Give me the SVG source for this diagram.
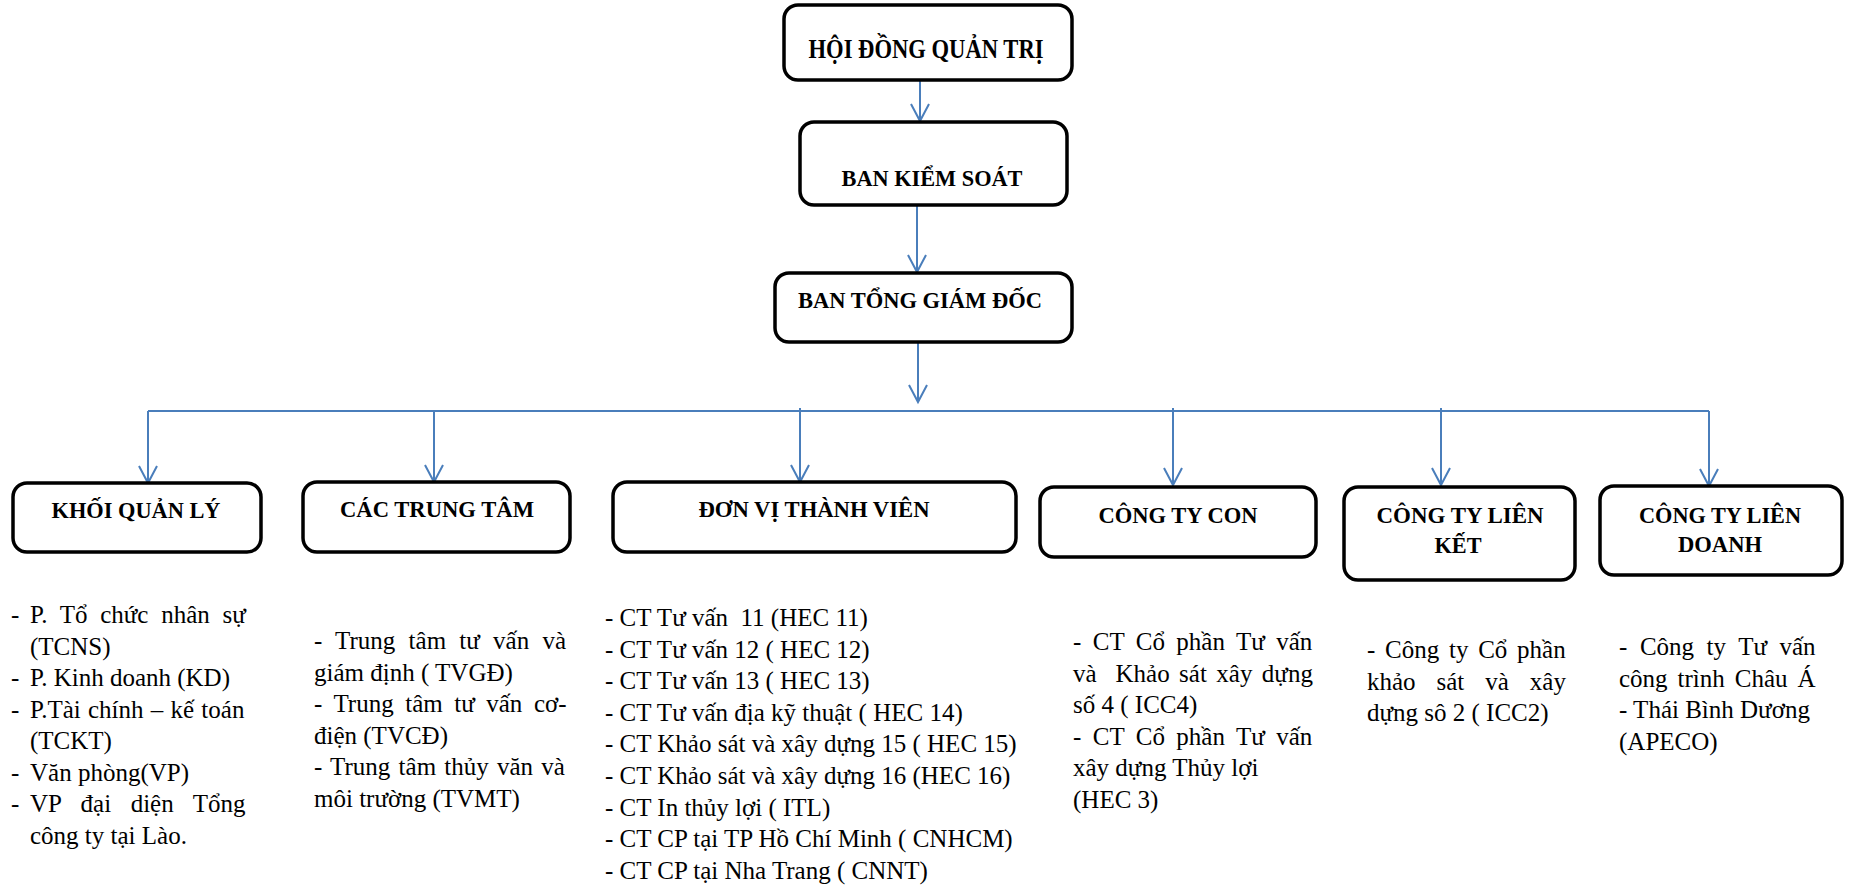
<svg xmlns="http://www.w3.org/2000/svg" width="1850" height="886" viewBox="0 0 1850 886" font-family="'Liberation Serif', Tinos, 'Times New Roman', 'DejaVu Serif', serif">
<style>
.box{fill:#fff;stroke:#000;stroke-width:3.5}
.h{font-family:'Liberation Serif', Tinos, 'Times New Roman', 'DejaVu Serif', serif;font-weight:bold;font-size:24px;text-anchor:middle;fill:#000}
.t{font-family:'Liberation Serif', Tinos, 'Times New Roman', 'DejaVu Serif', serif;font-size:25px;fill:#000;white-space:pre}
.c{stroke:#4a7ebb;stroke-width:2;fill:none}
</style>
<defs>
<marker id="ah" markerUnits="userSpaceOnUse" markerWidth="24" markerHeight="24" viewBox="-20 -12 24 24" refX="0" refY="0" orient="auto" overflow="visible">
<path d="M-17,-9 L0,0 L-17,9" fill="none" stroke="#4a7ebb" stroke-width="2"/>
</marker>
</defs>
<rect width="1850" height="886" fill="#fff"/>

<g id="connectors">
<path class="c" d="M920,80 V121" marker-end="url(#ah)"/>
<path class="c" d="M917,205 V272" marker-end="url(#ah)"/>
<path class="c" d="M918,342 V402" marker-end="url(#ah)"/>
<path class="c" d="M148,411 H1709"/>
<path class="c" d="M148,411 V483" marker-end="url(#ah)"/>
<path class="c" d="M434,411 V482" marker-end="url(#ah)"/>
<path class="c" d="M800,408 V482" marker-end="url(#ah)"/>
<path class="c" d="M1173,408 V485" marker-end="url(#ah)"/>
<path class="c" d="M1441,408 V485" marker-end="url(#ah)"/>
<path class="c" d="M1709,411 V486" marker-end="url(#ah)"/>
</g>

<g id="hdqt">
<rect class="box" x="784" y="5" width="288" height="75" rx="14"/>
<text class="h" x="926" y="58" style="font-size:28px" textLength="235" lengthAdjust="spacingAndGlyphs">HỘI ĐỒNG QUẢN TRỊ</text>
</g>
<g id="bks">
<rect class="box" x="800" y="122" width="267" height="83" rx="14"/>
<text class="h" x="932" y="186" textLength="181" lengthAdjust="spacingAndGlyphs">BAN KIỂM SOÁT</text>
</g>
<g id="btgd">
<rect class="box" x="775" y="273" width="297" height="69" rx="14"/>
<text class="h" x="920" y="308" textLength="244" lengthAdjust="spacingAndGlyphs">BAN TỔNG GIÁM ĐỐC</text>
</g>

<g id="khoi-quan-ly">
<rect class="box" x="13" y="483" width="248" height="69" rx="14"/>
<text class="h" x="136" y="518" textLength="169" lengthAdjust="spacingAndGlyphs">KHỐI QUẢN LÝ</text>
<text class="t" x="11" y="623">-</text>
<text class="t" x="30" y="623" word-spacing="6.5">P. Tổ chức nhân sự</text>
<text class="t" x="30" y="654.5">(TCNS)</text>
<text class="t" x="11" y="686">-</text>
<text class="t" x="30" y="686">P. Kinh doanh (KD)</text>
<text class="t" x="11" y="717.5">-</text>
<text class="t" x="30" y="717.5" word-spacing="1">P.Tài chính – kế toán</text>
<text class="t" x="30" y="749">(TCKT)</text>
<text class="t" x="11" y="780.5">-</text>
<text class="t" x="30" y="780.5">Văn phòng(VP)</text>
<text class="t" x="11" y="812">-</text>
<text class="t" x="30" y="812" word-spacing="13.3">VP đại diện Tổng</text>
<text class="t" x="30" y="843.5">công ty tại Lào.</text>
</g>

<g id="cac-trung-tam">
<rect class="box" x="303" y="482" width="267" height="70" rx="14"/>
<text class="h" x="437" y="517" textLength="194" lengthAdjust="spacingAndGlyphs">CÁC TRUNG TÂM</text>
<text class="t" x="314" y="649" word-spacing="7">- Trung tâm tư vấn và</text>
<text class="t" x="314" y="680.5">giám định ( TVGĐ)</text>
<text class="t" x="314" y="712" word-spacing="5.3">- Trung tâm tư vấn cơ-</text>
<text class="t" x="314" y="743.5">điện (TVCĐ)</text>
<text class="t" x="314" y="775" word-spacing="2">- Trung tâm thủy văn và</text>
<text class="t" x="314" y="806.5">môi trường (TVMT)</text>
</g>

<g id="don-vi-thanh-vien">
<rect class="box" x="613" y="482" width="403" height="70" rx="14"/>
<text class="h" x="814" y="517" textLength="231" lengthAdjust="spacingAndGlyphs">ĐƠN VỊ THÀNH VIÊN</text>
<text class="t" x="605" y="626">- CT Tư vấn  11 (HEC 11)</text>
<text class="t" x="605" y="657.6">- CT Tư vấn 12 ( HEC 12)</text>
<text class="t" x="605" y="689.2">- CT Tư vấn 13 ( HEC 13)</text>
<text class="t" x="605" y="720.8">- CT Tư vấn địa kỹ thuật ( HEC 14)</text>
<text class="t" x="605" y="752.4">- CT Khảo sát và xây dựng 15 ( HEC 15)</text>
<text class="t" x="605" y="784">- CT Khảo sát và xây dựng 16 (HEC 16)</text>
<text class="t" x="605" y="815.6">- CT In thủy lợi ( ITL)</text>
<text class="t" x="605" y="847.2">- CT CP tại TP Hồ Chí Minh ( CNHCM)</text>
<text class="t" x="605" y="878.8">- CT CP tại Nha Trang ( CNNT)</text>
</g>

<g id="cong-ty-con">
<rect class="box" x="1040" y="487" width="276" height="70" rx="14"/>
<text class="h" x="1178" y="523" textLength="159" lengthAdjust="spacingAndGlyphs">CÔNG TY CON</text>
<text class="t" x="1073" y="650" word-spacing="5.2">- CT Cổ phần Tư vấn</text>
<text class="t" x="1073" y="681.5" word-spacing="3.2">và  Khảo sát xây dựng</text>
<text class="t" x="1073" y="713">số 4 ( ICC4)</text>
<text class="t" x="1073" y="744.5" word-spacing="5.2">- CT Cổ phần Tư vấn</text>
<text class="t" x="1073" y="776">xây dựng Thủy lợi</text>
<text class="t" x="1073" y="807.5">(HEC 3)</text>
</g>

<g id="cong-ty-lien-ket">
<rect class="box" x="1344" y="487" width="231" height="93" rx="14"/>
<text class="h" x="1460" y="523" textLength="167" lengthAdjust="spacingAndGlyphs">CÔNG TY LIÊN</text>
<text class="h" x="1458" y="553" textLength="47" lengthAdjust="spacingAndGlyphs">KẾT</text>
<text class="t" x="1367" y="658" word-spacing="3.5">- Công ty Cổ phần</text>
<text class="t" x="1367" y="689.5" word-spacing="14.7">khảo sát và xây</text>
<text class="t" x="1367" y="721">dựng sô 2 ( ICC2)</text>
</g>

<g id="cong-ty-lien-doanh">
<rect class="box" x="1600" y="486" width="242" height="89" rx="14"/>
<text class="h" x="1720" y="523" textLength="162" lengthAdjust="spacingAndGlyphs">CÔNG TY LIÊN</text>
<text class="h" x="1720" y="552" textLength="84" lengthAdjust="spacingAndGlyphs">DOANH</text>
<text class="t" x="1619" y="655" word-spacing="6.3">- Công ty Tư vấn</text>
<text class="t" x="1619" y="686.5" word-spacing="3.7">công trình Châu Á</text>
<text class="t" x="1619" y="718">- Thái Bình Dương</text>
<text class="t" x="1619" y="749.5">(APECO)</text>
</g>
</svg>
